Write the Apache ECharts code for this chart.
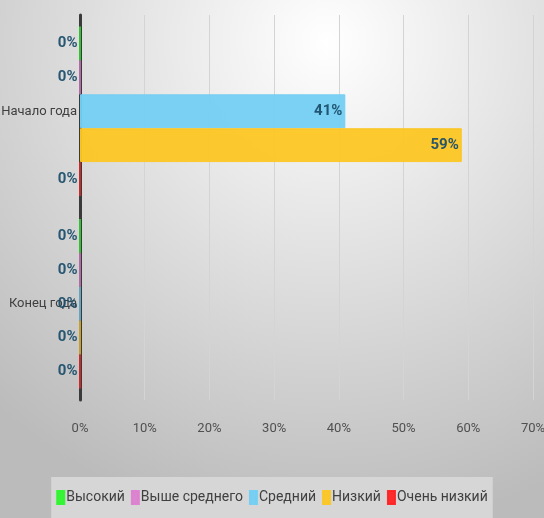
<!DOCTYPE html>
<html><head><meta charset="utf-8">
<script src="https://cdn.jsdelivr.net/npm/echarts@6/dist/echarts.min.js"></script>
<style>html,body{margin:0;padding:0;}#c{width:544px;height:518px;}</style>
</head><body><div id="c"></div>
<script>
const categories = ['Начало года', 'Конец года'];
const seriesNames = ['Высокий', 'Выше среднего', 'Средний', 'Низкий', 'Очень низкий'];
const seriesColors = ['#2ef52e', '#dc7fd0', '#74cff3', '#fcc624', '#ff2424'];
const vHigh = [0, 0];
const vAboveAvg = [0, 0];
const vAvg = [41, 0];
const vLow = [59, 0];
const vVeryLow = [0, 0];
const xTicks = [0, 10, 20, 30, 40, 50, 60, 70];
const values = [vHigh, vAboveAvg, vAvg, vLow, vVeryLow];
const FONT = "Roboto, sans-serif";

const chart = echarts.init(document.getElementById('c'));
chart.setOption({
  animation: false,
  backgroundColor: {
    type: 'radial', x: 0.6, y: 0.08, r: 0.95,
    colorStops: [{offset: 0, color: '#ffffff'}, {offset: 1, color: '#bbbbbb'}]
  },
  grid: {left: 80, right: 11, top: 15, bottom: 118, containLabel: false, outerBoundsMode: 'none'},
  legend: {
    top: 477, left: 'center', itemWidth: 7, itemHeight: 13, itemGap: 6,
    padding: [13, 5, 14, 5],
    backgroundColor: 'rgba(216,216,216,0.92)',
    textStyle: {fontFamily: FONT, fontSize: 14, color: '#404040', padding: [0, 0, 0, -3]},
    data: seriesNames.map((n, i) => ({name: n, icon: 'rect', itemStyle: {color: seriesColors[i]}}))
  },
  xAxis: {
    type: 'value', min: xTicks[0], max: xTicks[xTicks.length - 1], interval: 10,
    axisLine: {show: false}, axisTick: {show: false},
    splitLine: {lineStyle: {color: '#d4d4d4', width: 1}},
    axisLabel: {formatter: '{value}%', fontFamily: FONT, fontSize: 13, color: '#505050', margin: 22}
  },
  yAxis: {
    type: 'category', data: categories, inverse: true,
    axisLine: {lineStyle: {color: '#3a3a3a', width: 3}},
    axisTick: {show: false},
    axisLabel: {fontFamily: FONT, fontSize: 13, color: '#404040', margin: 3}
  },
  series: seriesNames.map((n, i) => ({
    name: n, type: 'bar', data: values[i],
    barGap: '0%', barCategoryGap: '12%',
    itemStyle: {color: seriesColors[i], borderColor: seriesColors[i], borderWidth: 1, opacity: 0.95},
    label: {
      show: true, position: 'insideRight', distance: 3, formatter: '{c}%',
      fontFamily: FONT, fontWeight: 'bold', fontSize: 15, color: '#1c4f6b'
    }
  }))
});
</script></body></html>
